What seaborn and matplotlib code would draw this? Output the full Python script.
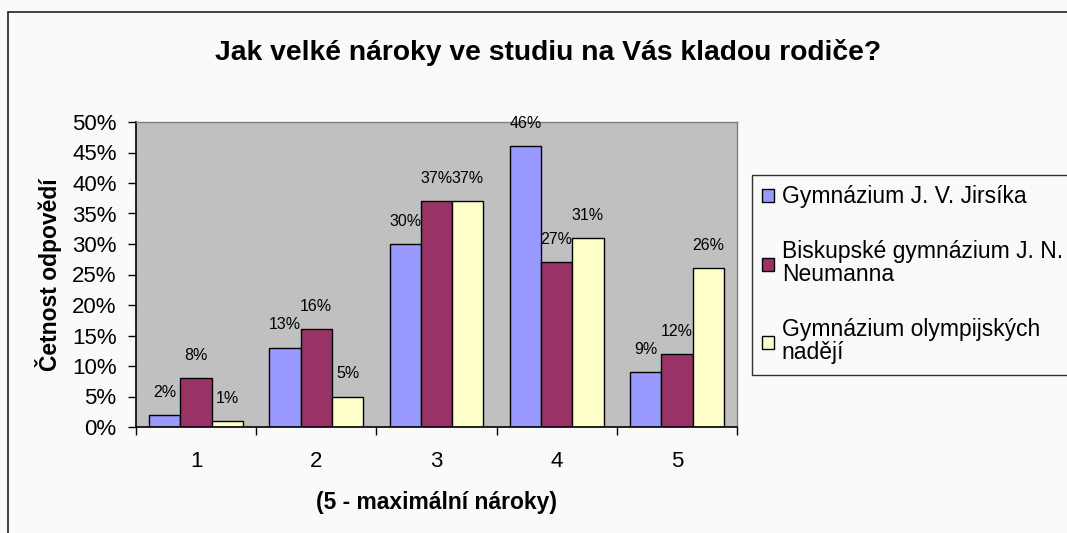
import matplotlib
matplotlib.use("Agg")
import matplotlib.pyplot as plt
import seaborn as sns
import pandas as pd
from matplotlib.patches import Rectangle
from matplotlib.ticker import FixedLocator, PercentFormatter

categories = ["1", "2", "3", "4", "5"]
series_names = ["Gymnázium J. V. Jirsíka",
                "Biskupské gymnázium J. N.\nNeumanna",
                "Gymnázium olympijských\nnadějí"]
jirsik = [2, 13, 30, 46, 9]
biskupske = [8, 16, 37, 27, 12]
olymp = [1, 5, 37, 31, 26]
colors = ["#9999ff", "#993366", "#ffffcc"]
yticks = [0, 5, 10, 15, 20, 25, 30, 35, 40, 45, 50]

rows = []
for name, vals in zip(series_names, [jirsik, biskupske, olymp]):
    for c, v in zip(categories, vals):
        rows.append({"cat": c, "series": name, "val": v})
df = pd.DataFrame(rows)

sns.set_theme(style="white")
plt.rcParams['font.family'] = ['Liberation Sans', 'DejaVu Sans']
plt.rcParams['text.color'] = 'black'
plt.rcParams['axes.labelcolor'] = 'black'
plt.rcParams['xtick.color'] = 'black'
plt.rcParams['ytick.color'] = 'black'

fig = plt.figure(figsize=(10.67, 5.33), dpi=100, facecolor="#fafafa")
fig.patches.append(Rectangle((8/1067, -0.1), 1.2, 1 - 12/533 + 0.1,
                             transform=fig.transFigure, fill=False,
                             edgecolor="#222222", linewidth=1.2))
ax = fig.add_axes([136/1067, 1 - 427/533, (737-136)/1067, (427-122)/533])
ax.set_facecolor("#c0c0c0")

sns.barplot(data=df, x="cat", y="val", hue="series", order=categories,
            hue_order=series_names, palette=colors, width=0.78, saturation=1,
            edgecolor="black", linewidth=1.0, ax=ax, legend=True)

for cont in ax.containers:
    ax.bar_label(cont, labels=[f"{int(round(b.get_height()))}%" for b in cont],
                 padding=11, fontsize=11.5, color="black")

ax.set_xlim(-0.5, 4.5)
ax.set_ylim(0, 50)
ax.set_yticks(yticks)
ax.yaxis.set_major_formatter(PercentFormatter(decimals=0))
ax.tick_params(axis="y", which="major", left=True, length=6, width=1,
               labelsize=16, color="black", pad=8)
ax.tick_params(axis="x", which="major", bottom=False, labelsize=16, pad=11)
ax.xaxis.set_minor_locator(FixedLocator([-0.5, 0.5, 1.5, 2.5, 3.5, 4.5]))
ax.tick_params(axis="x", which="minor", bottom=True, length=6, width=1, color="black")
for s in ["left", "bottom"]:
    ax.spines[s].set_color("black")
    ax.spines[s].set_linewidth(1.2)
for s in ["top", "right"]:
    ax.spines[s].set_color("#808080")
    ax.spines[s].set_linewidth(1.0)

ax.set_xlabel("(5 - maximální nároky)", fontsize=16.5, fontweight="bold", labelpad=14)
ax.set_ylabel("Četnost odpovědí", fontsize=16.5, fontweight="bold", labelpad=7)
fig.text(548/1067, 1 - 52/533, "Jak velké nároky ve studiu na Vás kladou rodiče?",
         ha="center", va="center", fontsize=20.3, fontweight="bold")

handles, labels = ax.get_legend_handles_labels()
ax.get_legend().remove()
leg = fig.legend(handles, labels, loc="upper left",
                 bbox_to_anchor=(752/1067, 1 - 175/533), fontsize=16.5,
                 frameon=True, fancybox=False, edgecolor="black",
                 facecolor="#fafafa", handlelength=0.5, handleheight=0.5,
                 handletextpad=0.35, labelspacing=1.4, borderpad=0.45,
                 borderaxespad=0)
leg.get_frame().set_linewidth(1.0)
for t in leg.get_texts():
    t.set_linespacing(1.0)

fig.savefig("out.png", dpi=100, facecolor=fig.get_facecolor())
